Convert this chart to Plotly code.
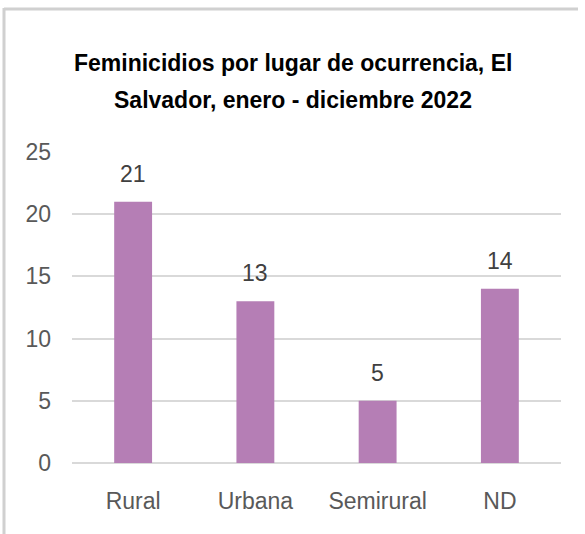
import plotly.graph_objects as go

categories = ["Rural", "Urbana", "Semirural", "ND"]
values = [21, 13, 5, 14]
y_ticks = [0, 5, 10, 15, 20, 25]
title_lines = ["Feminicidios por lugar de ocurrencia, El", "Salvador, enero - diciembre 2022"]

FONT = "Liberation Sans, Arial, sans-serif"
BAR = "#B57EB5"
GRID = "#D9D9D9"
TXT = "#595959"

W, H = 585, 534
ml, mr, mt, mb = 72, 24, 152, 71
pw, ph = W - ml - mr, H - mt - mb

def px_x(p):
    return (p - ml) / pw
def px_y(p):
    return 1 - (p - mt) / ph

fig = go.Figure()
fig.add_trace(go.Bar(x=categories, y=values, marker=dict(color=BAR, line=dict(width=0)),
                     hoverinfo="skip"))

for c, v in zip(categories, values):
    fig.add_annotation(x=c, y=v, text=str(v), showarrow=False, yanchor="bottom",
                       yshift=13, font=dict(family=FONT, size=23, color="#404040"))

for line, ypx in zip(title_lines, [63, 100]):
    fig.add_annotation(xref="paper", yref="paper", x=px_x(W / 2), y=px_y(ypx),
                       xanchor="center", yanchor="middle", showarrow=False,
                       text="<b>" + line + "</b>",
                       font=dict(family=FONT, size=23, color="#000000"))

# outer chart border (top and left edges visible)
fig.add_shape(type="line", xref="paper", yref="paper", x0=px_x(4), x1=px_x(578),
              y0=px_y(9), y1=px_y(9), line=dict(color="#D0D0D0", width=3), layer="above")
fig.add_shape(type="line", xref="paper", yref="paper", x0=px_x(4), x1=px_x(4),
              y0=px_y(8), y1=px_y(534), line=dict(color="#D0D0D0", width=3), layer="above")

fig.update_layout(
    width=W, height=H,
    margin=dict(l=ml, r=mr, t=mt, b=mb),
    paper_bgcolor="white", plot_bgcolor="white",
    bargap=0.69,
    showlegend=False,
    xaxis=dict(showgrid=False, showline=False, ticks="", tickfont=dict(family=FONT, size=23, color=TXT),
               ticklabelstandoff=22),
    yaxis=dict(range=[0, 25], tickvals=y_ticks, showgrid=True, gridcolor=GRID, gridwidth=2,
               zeroline=True, zerolinecolor=GRID, zerolinewidth=2, showline=False, ticks="",
               tickfont=dict(family=FONT, size=23, color=TXT), ticklabelstandoff=20),
)

fig.write_html("out.html")
